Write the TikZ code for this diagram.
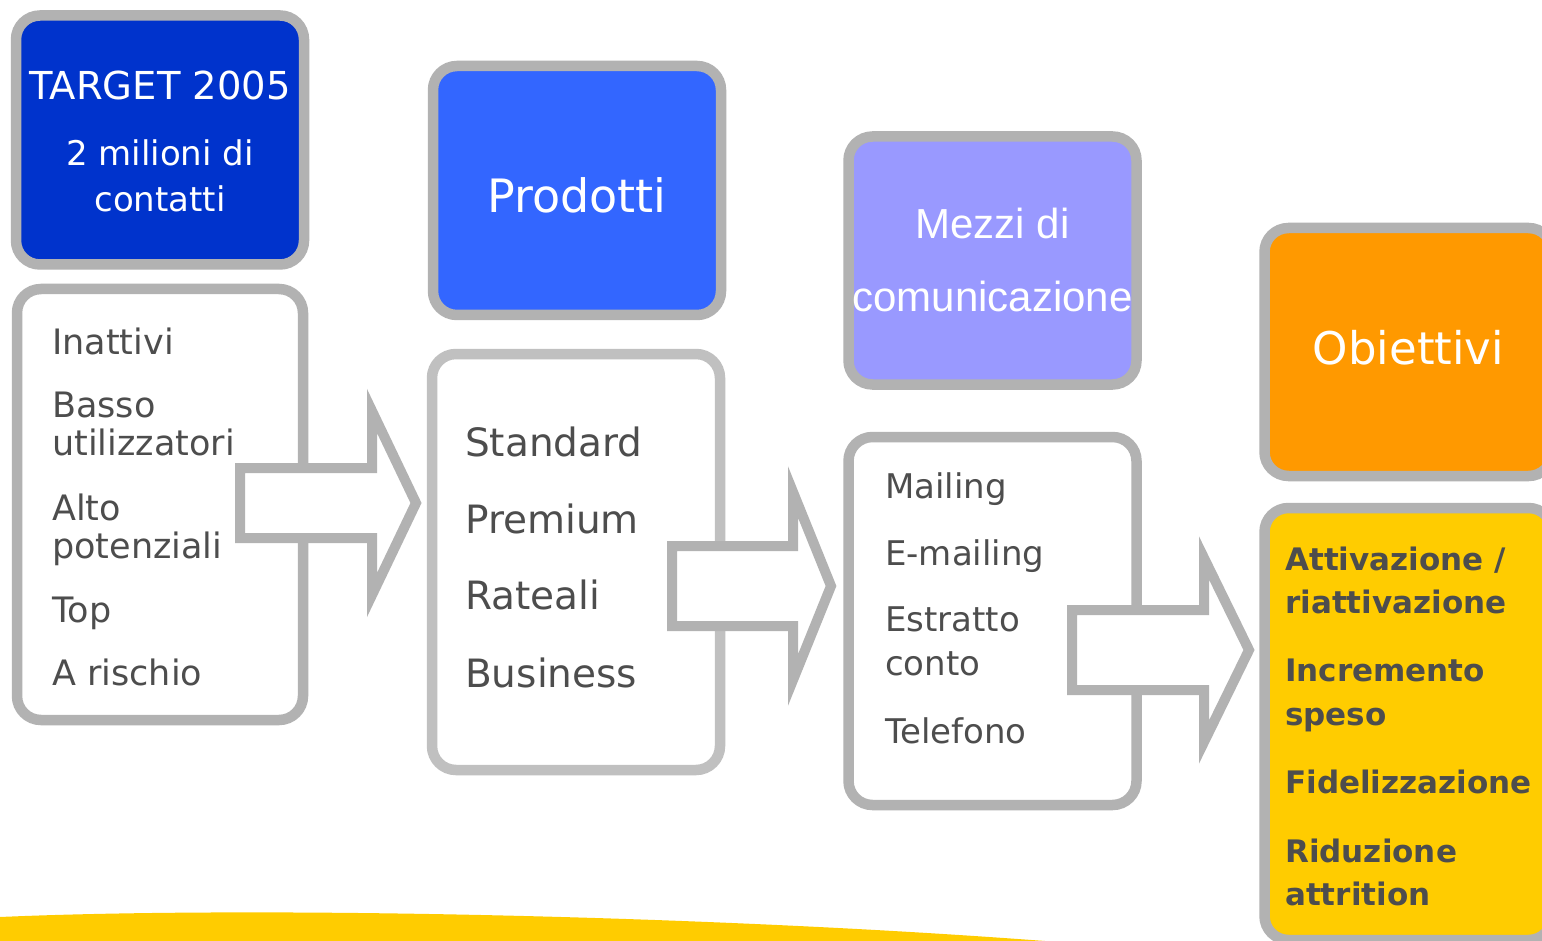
\documentclass[tikz,border=0pt]{standalone}
\usepackage{fontspec}
\setmainfont{DejaVu Sans}
\newfontfamily\arialfont{Liberation Sans}

\definecolor{frame}{HTML}{B2B2B2}
\definecolor{framelight}{HTML}{C0C0C0}
\definecolor{ink}{HTML}{4D4D4D}
\definecolor{bluedark}{HTML}{0033CC}
\definecolor{bluemid}{HTML}{3366FF}
\definecolor{lilac}{HTML}{9999FF}
\definecolor{orangebox}{HTML}{FF9900}
\definecolor{gold}{HTML}{FFCC00}

% block arrow: tail x, centre y, head base x, tip x, half body, half head
\newcommand\blockarrow[6]{%
  \draw[arrowshape] (#1,#2-#5) -- (#3,#2-#5) -- (#3,#2-#6) -- (#4,#2)
    -- (#3,#2+#6) -- (#3,#2+#5) -- (#1,#2+#5) -- cycle;}

\begin{document}
\begin{tikzpicture}[x=1pt,y=-1pt,
  panel/.style={draw=frame, line width=10.5pt, rounded corners=24pt,
    minimum width=288pt, inner sep=0pt, outer sep=0pt},
  arrowshape/.style={draw=frame, fill=white, line width=10pt, line join=miter},
  head/.style={anchor=base, text=white, inner sep=0pt},
  item/.style={anchor=base west, text=ink, inner sep=0pt},
]
\useasboundingbox (0,0) rectangle (1542,941);
\clip (0,0) rectangle (1542,941);
\fill[white] (0,0) rectangle (1542,941);

% yellow swoosh along the bottom
\fill[gold] (0,941) -- (0,917) .. controls (250,906) and (700,915) .. (1045,941) -- cycle;

% heading panels
\node[panel, fill=bluedark, minimum height=249pt] (target) at (160,140) {};
\node[panel, fill=bluemid,  minimum height=249pt] (prod)   at (577,190.5) {};
\node[panel, fill=lilac,    minimum height=248pt] (mezzi)  at (992.5,260.5) {};
\node[panel, fill=orangebox,minimum height=248pt] (obj)    at (1408.5,352) {};

% list panels
\node[panel, fill=white, minimum width=286pt, minimum height=431pt] (segm) at (160,504.5) {};
\node[panel, fill=white, draw=framelight, minimum height=416pt] (prodl) at (576,562) {};
\node[panel, fill=white, minimum height=368pt] (mezzil) at (992.5,621) {};
\node[panel, fill=gold,  minimum height=432pt] (objl) at (1408.5,724) {};

% block arrows between the columns
\blockarrow{240}{503}{372}{416}{35}{92}
\blockarrow{672}{586}{793}{831}{40}{94}
\blockarrow{1072}{650}{1204}{1249}{40}{92}

% heading texts
\node[head, font=\fontsize{38.5}{40}\selectfont] (ttarget) at (160,100) {TARGET 2005};
\node[head, font=\fontsize{34}{36}\selectfont] (tcontacts1) at (160,166) {2 milioni di};
\node[head, font=\fontsize{34}{36}\selectfont] (tcontacts2) at (160,212) {contatti};
\node[head, font=\fontsize{46}{48}\selectfont] (tprod) at (577,213) {Prodotti};
\node[head, font=\arialfont\fontsize{42}{44}\selectfont] (tmezzi1) at (992.5,239) {Mezzi di};
\node[head, font=\arialfont\fontsize{42}{44}\selectfont] (tmezzi2) at (992.5,312) {comunicazione};
\node[head, font=\fontsize{45}{47}\selectfont] (tobj) at (1408.5,364) {Obiettivi};

% list texts
\foreach \txt/\yy [count=\i] in {Inattivi/354, Basso/417, utilizzatori/455, Alto/520,
    potenziali/558, Top/622, A rischio/685}
  \node[item, font=\fontsize{35}{37}\selectfont] (seg\i) at (52,\yy) {\txt};

\foreach \txt/\yy [count=\i] in {Standard/456, Premium/533, Rateali/609, Business/687}
  \node[item, font=\fontsize{39}{41}\selectfont] (prd\i) at (465,\yy) {\txt};

\foreach \txt/\yy [count=\i] in {Mailing/498, E-mailing/565, Estratto/631, conto/675,
    Telefono/743}
  \node[item, font=\fontsize{34}{36}\selectfont] (chn\i) at (885,\yy) {\txt};

\foreach \txt/\yy [count=\i] in {{Attivazione /}/570, riattivazione/613, Incremento/681,
    speso/725, Fidelizzazione/793, Riduzione/862, attrition/905}
  \node[item, font=\bfseries\fontsize{31}{33}\selectfont] (goal\i) at (1285,\yy) {\txt};
\end{tikzpicture}
\end{document}
